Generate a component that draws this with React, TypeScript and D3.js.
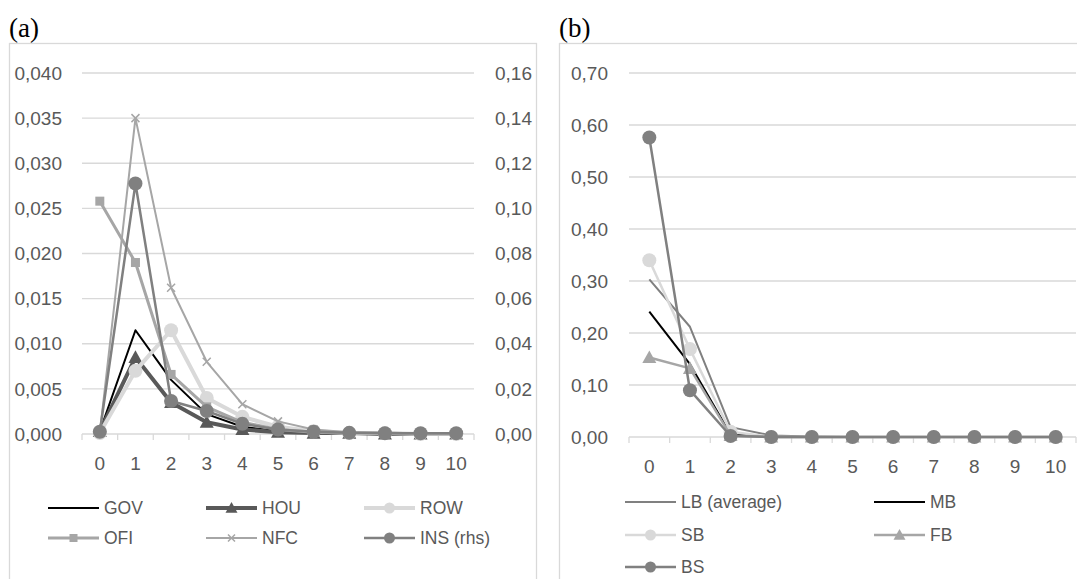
import React from 'react';
import * as d3 from 'd3';

// categories on the x axis (both panels)
const categories = ['0', '1', '2', '3', '4', '5', '6', '7', '8', '9', '10'];

// panel (a) - left axis series
const gov = [0.0003, 0.0115, 0.006, 0.0022, 0.0008, 0.0003, 0.0001, 0.0001, 0.0, 0.0, 0.0];
const hou = [0.0003, 0.0085, 0.0035, 0.0013, 0.0005, 0.0002, 0.0001, 0.0001, 0.0, 0.0, 0.0];
const row = [0.0001, 0.007, 0.0115, 0.004, 0.0019, 0.0008, 0.0003, 0.0001, 0.0001, 0.0, 0.0];
const ofi = [0.0258, 0.019, 0.0066, 0.003, 0.0013, 0.0005, 0.0002, 0.0001, 0.0001, 0.0, 0.0];
const nfc = [0.0001, 0.035, 0.0162, 0.008, 0.0033, 0.0014, 0.0005, 0.0002, 0.0001, 0.0001, 0.0];
// panel (a) - right axis
const insRhs = [0.001, 0.111, 0.0146, 0.0102, 0.0045, 0.002, 0.001, 0.0005, 0.0003, 0.0003, 0.0003];

const leftTicksA = [0, 0.005, 0.01, 0.015, 0.02, 0.025, 0.03, 0.035, 0.04];
const rightTicksA = [0, 0.02, 0.04, 0.06, 0.08, 0.1, 0.12, 0.14, 0.16];

// panel (b)
const lb = [0.303, 0.212, 0.019, 0.003, 0.001, 0.0, 0.0, 0.0, 0.0, 0.0, 0.0];
const mb = [0.241, 0.14, 0.005, 0.0, 0.0, 0.0, 0.0, 0.0, 0.0, 0.0, 0.0];
const sb = [0.34, 0.169, 0.01, 0.0, 0.0, 0.0, 0.0, 0.0, 0.0, 0.0, 0.0];
const fb = [0.153, 0.132, 0.003, 0.0, 0.0, 0.0, 0.0, 0.0, 0.0, 0.0, 0.0];
const bs = [0.576, 0.09, 0.002, 0.0, 0.0, 0.0, 0.0, 0.0, 0.0, 0.0, 0.0];

const ticksB = [0, 0.1, 0.2, 0.3, 0.4, 0.5, 0.6, 0.7];

const FONT = '"Liberation Sans", Arial, sans-serif';
const TXT = '#595959';
const GRID = '#d9d9d9';

const fmt = (d, n) => d3.format(`.${n}f`)(d).replace('.', ',');

const Marker = ({ type, x, y, color, size }) => {
    if (type === 'circle') return <circle cx={x} cy={y} r={size} fill={color} />;
    if (type === 'square') return <rect x={x - size} y={y - size} width={size * 2} height={size * 2} fill={color} />;
    if (type === 'triangle') {
        const s = size;
        return <path d={`M${x},${y - s}L${x + s},${y + s * 0.8}L${x - s},${y + s * 0.8}Z`} fill={color} />;
    }
    if (type === 'x') {
        return <path d={`M${x - size},${y - size}L${x + size},${y + size}M${x - size},${y + size}L${x + size},${y - size}`} stroke={color} strokeWidth={1.5} />;
    }
    return null;
};

const Series = ({ values, x, y, color, width, marker, msize }) => {
    const line = d3.line()
        .x((d, i) => x(categories[i]) + x.bandwidth() / 2)
        .y(d => y(d));
    return (
        <g>
            <path d={line(values)} fill="none" stroke={color} strokeWidth={width} strokeLinejoin="round" />
            {marker ? values.map((v, i) =>
                <Marker key={i} type={marker} x={x(categories[i]) + x.bandwidth() / 2} y={y(v)} color={color} size={msize} />
            ) : null}
        </g>
    );
};

const LegendItem = ({ x, y, label, color, width, marker, msize }) => (
    <g>
        <line x1={x} x2={x + 51} y1={y} y2={y} stroke={color} strokeWidth={width} />
        {marker ? <Marker type={marker} x={x + 25.5} y={y} color={color} size={msize} /> : null}
        <text x={x + 56} y={y} dy="0.35em" fontSize={17.5} fill={TXT} fontFamily={FONT}>{label}</text>
    </g>
);

const XAxis = ({ x, y0 }) => (
    <g>
        <line x1={x.range()[0]} x2={x.range()[1]} y1={y0} y2={y0} stroke={GRID} strokeWidth={1.3} />
        {categories.map(c => <line key={c} x1={x(c)} x2={x(c)} y1={y0} y2={y0 + 6} stroke={GRID} strokeWidth={1.3} />)}
        <line x1={x.range()[1]} x2={x.range()[1]} y1={y0} y2={y0 + 6} stroke={GRID} strokeWidth={1.3} />
        {categories.map(c =>
            <text key={c} x={x(c) + x.bandwidth() / 2} y={y0 + 29} dy="0.35em" textAnchor="middle"
                fontSize={19} fill={TXT} fontFamily={FONT}>{c}</text>
        )}
    </g>
);

const PanelA = () => {
    const x = d3.scaleBand().domain(categories).range([82, 474]);
    const y = d3.scaleLinear().domain([0, 0.04]).range([434, 73]);
    const y2 = d3.scaleLinear().domain([0, 0.16]).range([434, 73]);
    return (
        <g>
            <rect x={9.5} y={43.5} width={527} height={560} fill="none" stroke={GRID} strokeWidth={1.3} />
            <text x={9} y={37} fontSize={27} fontFamily='"Liberation Serif", serif' fill="#000">(a)</text>
            {leftTicksA.map(t =>
                <g key={t}>
                    {t > 0 ? <line x1={82} x2={474} y1={y(t)} y2={y(t)} stroke={GRID} strokeWidth={1.3} /> : null}
                    <text x={62} y={y(t)} dy="0.35em" textAnchor="end" fontSize={19} fill={TXT} fontFamily={FONT}>{fmt(t, 3)}</text>
                </g>
            )}
            {rightTicksA.map(t =>
                <text key={t} x={532} y={y2(t)} dy="0.35em" textAnchor="end" fontSize={19} fill={TXT} fontFamily={FONT}>{fmt(t, 2)}</text>
            )}
            <XAxis x={x} y0={434} />
            <Series values={gov} x={x} y={y} color="#000000" width={2} />
            <Series values={hou} x={x} y={y} color="#595959" width={4} marker="triangle" msize={7} />
            <Series values={row} x={x} y={y} color="#d9d9d9" width={4} marker="circle" msize={7} />
            <Series values={ofi} x={x} y={y} color="#a6a6a6" width={3} marker="square" msize={4.5} />
            <Series values={nfc} x={x} y={y} color="#a6a6a6" width={2} marker="x" msize={4} />
            <Series values={insRhs} x={x} y={y2} color="#808080" width={2.5} marker="circle" msize={7} />

            <LegendItem x={48} y={508} label="GOV" color="#000000" width={2} />
            <LegendItem x={206} y={508} label="HOU" color="#595959" width={4} marker="triangle" msize={6} />
            <LegendItem x={364} y={508} label="ROW" color="#d9d9d9" width={4} marker="circle" msize={5.5} />
            <LegendItem x={48} y={538} label="OFI" color="#a6a6a6" width={3} marker="square" msize={4} />
            <LegendItem x={206} y={538} label="NFC" color="#a6a6a6" width={2} marker="x" msize={3.5} />
            <LegendItem x={364} y={538} label="INS (rhs)" color="#808080" width={2.5} marker="circle" msize={5.5} />
        </g>
    );
};

const PanelB = () => {
    const x = d3.scaleBand().domain(categories).range([629, 1076]);
    const y = d3.scaleLinear().domain([0, 0.7]).range([437, 73]);
    return (
        <g>
            <rect x={559.5} y={43.5} width={560} height={560} fill="none" stroke={GRID} strokeWidth={1.3} />
            <text x={559} y={37} fontSize={27} fontFamily='"Liberation Serif", serif' fill="#000">(b)</text>
            {ticksB.map(t =>
                <g key={t}>
                    {t > 0 ? <line x1={629} x2={1076} y1={y(t)} y2={y(t)} stroke={GRID} strokeWidth={1.3} /> : null}
                    <text x={608} y={y(t)} dy="0.35em" textAnchor="end" fontSize={19} fill={TXT} fontFamily={FONT}>{fmt(t, 2)}</text>
                </g>
            )}
            <XAxis x={x} y0={437} />
            <Series values={lb} x={x} y={y} color="#808080" width={2} />
            <Series values={mb} x={x} y={y} color="#000000" width={2} />
            <Series values={sb} x={x} y={y} color="#d9d9d9" width={2.5} marker="circle" msize={7} />
            <Series values={fb} x={x} y={y} color="#a6a6a6" width={2.5} marker="triangle" msize={7} />
            <Series values={bs} x={x} y={y} color="#808080" width={2.5} marker="circle" msize={7} />

            <LegendItem x={625} y={502} label="LB (average)" color="#808080" width={2} />
            <LegendItem x={874} y={502} label="MB" color="#000000" width={2} />
            <LegendItem x={625} y={535} label="SB" color="#d9d9d9" width={2.5} marker="circle" msize={5.5} />
            <LegendItem x={874} y={535} label="FB" color="#a6a6a6" width={2.5} marker="triangle" msize={6} />
            <LegendItem x={625} y={567} label="BS" color="#808080" width={2.5} marker="circle" msize={5.5} />
        </g>
    );
};

export default function App() {
    return (
        <svg width={1077} height={579} style={{ position: 'absolute', left: 0, top: 0, background: '#fff' }}>
            <rect x={0} y={0} width={1077} height={579} fill="#fff" />
            <PanelA />
            <PanelB />
        </svg>
    );
}
